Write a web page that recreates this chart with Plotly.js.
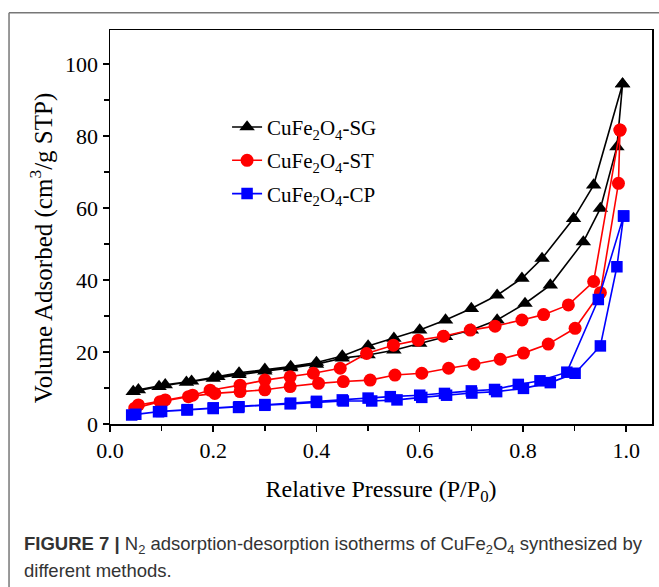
<!DOCTYPE html>
<html><head><meta charset="utf-8">
<script src="https://cdn.plot.ly/plotly-3.0.1.min.js"></script>
<style>body{margin:0;background:#fff}#chart{width:659px;height:587px}</style>
</head><body><div id="chart"></div>
<script>
// CuFe2O4-SG
const sgAdsP = [0.045,0.095,0.148,0.2,0.25,0.3,0.35,0.4,0.45,0.5,0.55,0.6,0.65,0.7,0.75,0.804,0.853,0.917,0.95,0.982,0.993];
const sgAdsV = [9.0,10.4,11.6,12.7,13.7,14.7,15.6,16.6,18.3,19.2,20.5,22.4,24.3,26.1,28.9,33.5,38.6,50.6,59.9,77.0,94.5];
const sgDesP = [0.993,0.937,0.898,0.837,0.798,0.75,0.7,0.65,0.6,0.55,0.5,0.45,0.4,0.35,0.3,0.25,0.209,0.158,0.107,0.055];
const sgDesV = [94.5,66.4,57.1,46.0,40.5,35.8,32.1,28.9,26.1,23.8,21.7,18.9,17.1,16.0,15.2,14.2,13.2,11.9,10.9,9.5];
// CuFe2O4-ST
const stAdsP = [0.048,0.097,0.152,0.203,0.252,0.3,0.349,0.404,0.452,0.504,0.552,0.604,0.656,0.705,0.756,0.801,0.849,0.901,0.95,0.985,0.988];
const stAdsV = [4.4,6.2,7.6,8.5,9.0,9.5,10.4,11.3,11.8,12.2,13.6,14.1,15.5,16.6,18.0,19.7,22.2,26.6,36.5,66.9,81.7];
const stDesP = [0.988,0.937,0.888,0.84,0.798,0.746,0.698,0.646,0.597,0.549,0.497,0.446,0.394,0.349,0.3,0.252,0.194,0.16,0.107,0.055];
const stDesV = [81.7,39.6,33.1,30.4,28.9,27.2,26.1,24.4,23.3,21.9,19.6,15.5,14.1,13.1,12.2,10.8,9.4,8.0,6.7,5.3];
// CuFe2O4-CP
const cpAdsP = [0.042,0.094,0.149,0.2,0.249,0.3,0.349,0.4,0.452,0.507,0.556,0.604,0.652,0.701,0.749,0.801,0.853,0.901,0.95,0.982,0.995];
const cpAdsV = [2.5,3.4,3.9,4.3,4.6,5.2,5.6,6.0,6.4,6.4,6.7,7.4,8.0,8.6,9.0,9.9,11.5,14.1,21.7,43.7,57.8];
const cpDesP = [0.995,0.946,0.885,0.833,0.791,0.745,0.7,0.648,0.6,0.543,0.5,0.45,0.4,0.35,0.3,0.25,0.2,0.15,0.1,0.05];
const cpDesV = [57.8,34.6,14.4,12.0,11.0,9.6,9.2,8.5,8.0,7.6,7.2,6.7,6.3,5.8,5.4,4.8,4.5,4.0,3.5,2.7];

const names = ['CuFe<sub>2</sub>O<sub>4</sub>-SG','CuFe<sub>2</sub>O<sub>4</sub>-ST','CuFe<sub>2</sub>O<sub>4</sub>-CP'];
const serif = 'Liberation Serif, Times New Roman, serif';

function tr(px, vy, name, color, symbol, size, grp){
  return {x: px, y: vy, name: name, legendgroup: grp, type:'scatter', mode:'lines+markers',
    line:{color:color, width:1.6}, marker:{color:color, symbol:symbol, size:size}};
}
const data = [
  tr(sgAdsP.concat(sgDesP), sgAdsV.concat(sgDesV), names[0], '#000000', 'triangle-up', 13.5, 'a'),
  tr(stAdsP.concat(stDesP), stAdsV.concat(stDesV), names[1], '#ff0000', 'circle', 13, 'b'),
  tr(cpAdsP.concat(cpDesP), cpAdsV.concat(cpDesV), names[2], '#0000ff', 'square', 11.5, 'c')
];
const axBase = {showline:true, mirror:true, linecolor:'#000', linewidth:1.5, ticks:'outside', ticklen:6, tickwidth:1.5, tickcolor:'#000',
  showgrid:false, zeroline:false, tickfont:{family:serif, size:22, color:'#000'}};
const layout = {
  width:659, height:587, margin:{l:110, r:7, t:30, b:163},
  paper_bgcolor:'#fff', plot_bgcolor:'#fff', showlegend:true,
  xaxis: Object.assign({}, axBase, {range:[0,1.05], dtick:0.2, tick0:0, tickformat:'.1f',
    minor:{dtick:0.1, ticks:'outside', ticklen:5, tickwidth:1.5, tickcolor:'#000'},
    title:{text:'Relative Pressure (P/P<sub>0</sub>)', font:{family:serif, size:24, color:'#000'}, standoff:18}}),
  yaxis: Object.assign({}, axBase, {range:[0,109.5], dtick:20, tick0:0,
    minor:{dtick:10, ticks:'outside', ticklen:5, tickwidth:1.5, tickcolor:'#000'}}),
  legend:{x:0.216, y:0.805, xanchor:'left', yanchor:'top', bgcolor:'rgba(0,0,0,0)', font:{family:serif, size:21, color:'#000'}, tracegroupgap:3, traceorder:'grouped'},
  shapes:[
    {type:'line', xref:'paper', yref:'paper', x0:-0.1863, x1:1.02, y0:1.0439, y1:1.0439, line:{color:'#777', width:1.5}},
    {type:'line', xref:'paper', yref:'paper', x0:-0.1863, x1:-0.1863, y0:1.0439, y1:-0.42, line:{color:'#777', width:1.5}}
  ],
  annotations:[
    {xref:'paper', yref:'paper', x:-0.125, y:0.447, xanchor:'center', yanchor:'middle', textangle:-90, showarrow:false,
     text:'Volume Adsorbed (cm<sup>3</sup>/g STP)', font:{family:serif, size:25, color:'#000'}},
    {xref:'paper', yref:'paper', x:-0.162, y:-0.308, xanchor:'left', yanchor:'middle', showarrow:false, align:'left',
     text:'<b>FIGURE 7 |</b> N<sub>2</sub> adsorption-desorption isotherms of CuFe<sub>2</sub>O<sub>4</sub> synthesized by',
     font:{family:'Liberation Sans, Arial, sans-serif', size:18.5, color:'#333'}},
    {xref:'paper', yref:'paper', x:-0.162, y:-0.372, xanchor:'left', yanchor:'middle', showarrow:false, align:'left',
     text:'different methods.', font:{family:'Liberation Sans, Arial, sans-serif', size:18.5, color:'#333'}}
  ]
};
Plotly.newPlot('chart', data, layout, {displayModeBar:false, staticPlot:true});
</script></body></html>
